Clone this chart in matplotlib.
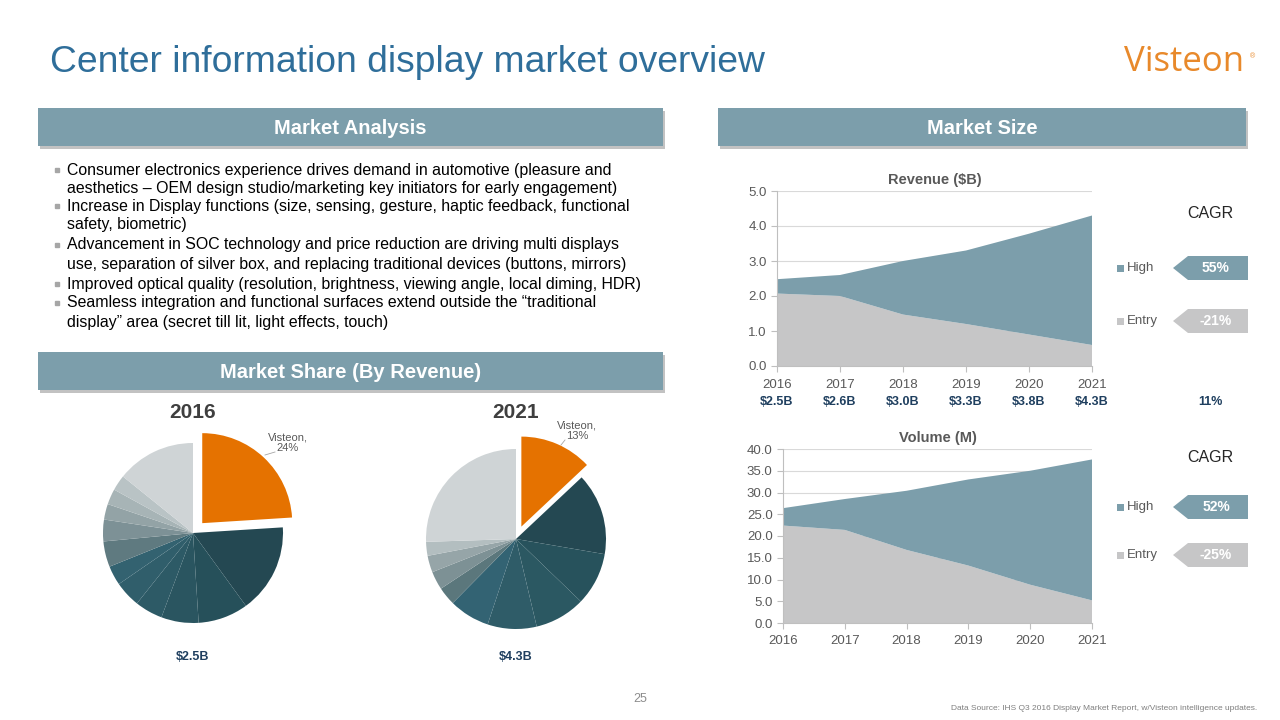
import matplotlib
matplotlib.use("Agg")
import matplotlib.pyplot as plt
import matplotlib.transforms as mtransforms
from matplotlib.patches import Rectangle, Polygon

plt.rcParams['font.family'] = ['Liberation Sans', 'DejaVu Sans']

# ---- data ----
years = [2016, 2017, 2018, 2019, 2020, 2021]
revenue_entry = [2.07, 2.00, 1.47, 1.20, 0.90, 0.60]
revenue_high = [0.41, 0.60, 1.53, 2.10, 2.88, 3.70]
revenue_totals = ["$2.5B", "$2.6B", "$3.0B", "$3.3B", "$3.8B", "$4.3B"]
volume_entry = [22.4, 21.4, 16.8, 13.2, 8.8, 5.2]
volume_high = [4.0, 7.1, 13.6, 19.8, 26.2, 32.4]

revenue_cagr = ["55%", "-21%"]
volume_cagr = ["52%", "-25%"]
total_cagr = "11%"

share_2016 = [24, 16, 9, 6.7, 5, 4.7, 3.5, 4.6, 3.9, 2.8, 2.8, 2.8, 14.2]
share_2021 = [13, 14.7, 9.5, 9.1, 8.8, 7.3, 3.3, 3.3, 3.0, 2.5, 25.5]
colors_2016 = ['#e57200', '#244852', '#26505a', '#2a5560', '#2d5a66', '#305e6b',
               '#336270', '#5f7a80', '#7d9196', '#93a3a6', '#a7b4b6', '#b9c3c5', '#cfd4d6']
colors_2021 = ['#e57200', '#244852', '#27525c', '#2b5862', '#2f5c68', '#336373',
               '#5b777c', '#7d9195', '#96a5a8', '#b3bec0', '#cfd4d6']

bullets = [
    ("Consumer electronics experience drives demand in automotive (pleasure and", True),
    ("aesthetics \u2013 OEM design studio/marketing key initiators for early engagement)", False),
    ("Increase in Display functions (size, sensing, gesture, haptic feedback, functional", True),
    ("safety, biometric)", False),
    ("Advancement in SOC technology and price reduction are driving multi displays", True),
    ("use, separation of silver box, and replacing traditional devices (buttons, mirrors)", False),
    ("Improved optical quality (resolution, brightness, viewing angle, local diming, HDR)", True),
    ("Seamless integration and functional surfaces extend outside the \u201ctraditional", True),
    ("display\u201d area (secret till lit, light effects, touch)", False),
]

BAR = '#7c9eab'
GRAY = '#c6c6c7'
NAVY = '#1f3f5f'
TXT = '#595959'

W, H = 1280, 720
fig = plt.figure(figsize=(12.8, 7.2), dpi=100)

# background layer in pixel coordinates
bg = fig.add_axes([0, 0, 1, 1])
bg.set_xlim(0, W)
bg.set_ylim(H, 0)
bg.axis('off')


def ax_px(x0, y0, x1, y1):
    return fig.add_axes([x0 / W, 1 - y1 / H, (x1 - x0) / W, (y1 - y0) / H])


def header(x0, y0, x1, y1, label):
    bg.add_patch(Rectangle((x0 + 2, y0 + 3), x1 - x0, y1 - y0, color='#9a9a9a', alpha=0.6, lw=0))
    bg.add_patch(Rectangle((x0, y0), x1 - x0, y1 - y0, color=BAR, lw=0))
    bg.text((x0 + x1) / 2, (y0 + y1) / 2 + 1, label, color='white', fontsize=14.5,
            fontweight='bold', ha='center', va='center')


# title and logo
bg.text(50, 62, "Center information display market overview", color='#2f6e9a',
        fontsize=26.8, ha='left', va='center')
bg.text(1184, 62, "Visteon", color='#e8892b', fontsize=25, ha='center', va='center',
        family='Open Sans')
bg.text(1253, 57, "\u00ae", color='#e8892b', fontsize=5, ha='center', va='center')

header(38, 108, 663, 146, "Market Analysis")
header(718, 108, 1246, 146, "Market Size")
header(38, 352, 663, 390, "Market Share (By Revenue)")

# bullet list
line_y = [170, 189, 206, 225, 245, 264, 284, 303, 322]
for (line, has_bullet), y in zip(bullets, line_y):
    if has_bullet:
        bg.plot(57, y, marker='s', ms=3.5, color='#a6a6a6')
    bg.text(67, y, line, fontsize=11.4, color='black', ha='left', va='center')


# area charts
def area_chart(ax, entry, high, ymax, step, title):
    ax.stackplot(years, entry, high, colors=[GRAY, BAR], linewidth=0)
    ax.set_xlim(years[0], years[-1])
    ax.set_ylim(0, ymax)
    ticks = [i * step for i in range(int(round(ymax / step)) + 1)]
    ax.set_yticks(ticks)
    ax.set_yticklabels([f"{t:.1f}" for t in ticks])
    ax.set_xticks(years)
    ax.set_axisbelow(True)
    ax.grid(axis='y', color='#d9d9d9', lw=0.8)
    for s in ['top', 'right']:
        ax.spines[s].set_visible(False)
    for s in ['left', 'bottom']:
        ax.spines[s].set_color('#bfbfbf')
    ax.tick_params(colors='#bfbfbf', labelcolor=TXT, labelsize=9.5, length=4)
    ax.tick_params(axis='x', pad=5)
    ax.set_title(title, fontsize=10.5, fontweight='bold', color=TXT, pad=5)


ax_rev = ax_px(777, 191, 1092, 366)
area_chart(ax_rev, revenue_entry, revenue_high, 5.0, 1.0, "Revenue ($B)")
trans = mtransforms.blended_transform_factory(ax_rev.transData, ax_rev.transAxes)
for yr, lab in zip(years, revenue_totals):
    ax_rev.text(yr, -0.205, lab, transform=trans, fontsize=9, fontweight='bold',
                color=NAVY, ha='center', va='center')

ax_vol = ax_px(783, 449, 1092, 623)
area_chart(ax_vol, volume_entry, volume_high, 40.0, 5.0, "Volume (M)")


# legends with CAGR arrows
def cagr_block(y_cagr, y_high, y_entry, vals):
    bg.text(1210, y_cagr, "CAGR", fontsize=11.5, color='#262626', ha='center', va='center')
    for y, name, col, v in [(y_high, "High", BAR, vals[0]), (y_entry, "Entry", GRAY, vals[1])]:
        bg.add_patch(Rectangle((1117, y - 3.5), 7, 7, color=col, lw=0))
        bg.text(1127, y, name, fontsize=9.5, color=TXT, ha='left', va='center')
        bg.add_patch(Polygon([(1173, y), (1188, y - 12), (1248, y - 12), (1248, y + 12),
                              (1188, y + 12)], closed=True, color=col, lw=0))
        bg.text(1216, y, v, fontsize=10, fontweight='bold', color='white',
                ha='center', va='center')


cagr_block(214, 268, 321, revenue_cagr)
cagr_block(457, 507, 555, volume_cagr)
bg.text(1210, 402, total_cagr, fontsize=9, fontweight='bold', color=NAVY,
        ha='center', va='center')


# pies
def pie_chart(cx, cy, r, vals, cols, year, total):
    s = 1.25 * r
    ax = ax_px(cx - s, cy - s, cx + s, cy + s)
    explode = [0.15] + [0] * (len(vals) - 1)
    ax.pie(vals, colors=cols, startangle=90, counterclock=False, explode=explode,
           wedgeprops=dict(linewidth=0))
    ax.set_xlim(-1.25, 1.25)
    ax.set_ylim(-1.25, 1.25)
    bg.text(cx, 412, year, fontsize=15, fontweight='bold', color='#3f3f3f',
            ha='center', va='center')
    bg.text(cx, 657, total, fontsize=9, fontweight='bold', color=NAVY,
            ha='center', va='center')
    return ax


pie_chart(193, 533, 90, share_2016, colors_2016, "2016", "$2.5B")
pie_chart(516, 539, 90, share_2021, colors_2021, "2021", "$4.3B")

bg.text(288, 443, f"Visteon,\n{share_2016[0]}%", fontsize=8, color=TXT, ha='center',
        va='center', linespacing=1.0)
bg.plot([265, 275], [455, 452], color='#a6a6a6', lw=0.6)
bg.text(577, 431, f"Visteon,\n{share_2021[0]}%", fontsize=8, color=TXT, ha='center',
        va='center', linespacing=1.0)
bg.plot([561, 565], [445, 440], color='#a6a6a6', lw=0.6)

# footer
bg.text(640, 699, "25", fontsize=9, color='#8c8c8c', ha='center', va='center')
bg.text(1257, 708, "Data Source: IHS Q3 2016 Display Market Report, w/Visteon intelligence updates.",
        fontsize=6, color='#7f7f7f', ha='right', va='center')

fig.savefig("out.png", dpi=100)
